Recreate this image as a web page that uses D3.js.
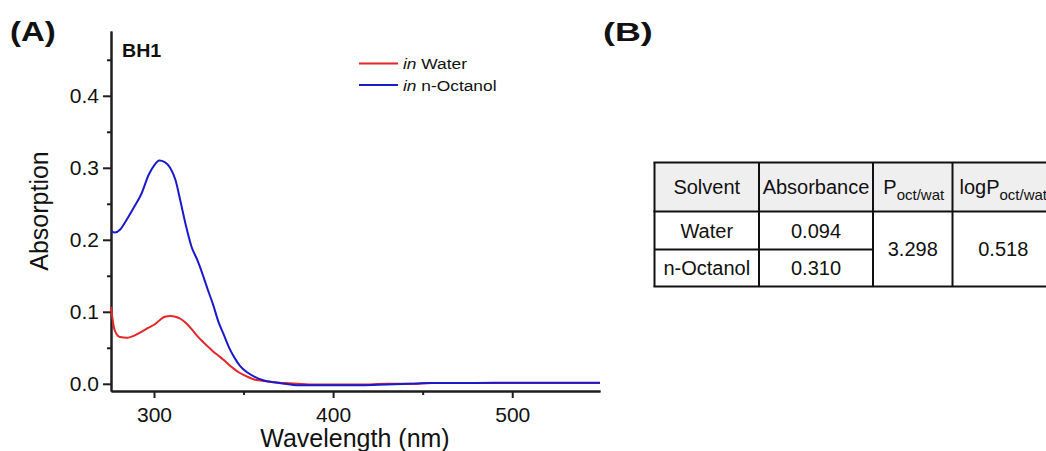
<!DOCTYPE html>
<html>
<head>
<meta charset="utf-8">
<script src="https://cdn.jsdelivr.net/npm/d3@7"></script>
<style>
  html, body { margin: 0; padding: 0; background: #fff; }
  svg { display: block; font-family: "Liberation Sans", Arial, sans-serif; }
</style>
</head>
<body>
<svg id="fig" width="1046" height="451"></svg>
<script>
// Wavelength grid (nm) shared by both spectra
const wavelength = [276, 278, 281, 285, 289, 293, 297, 300, 303, 306, 309, 312, 315, 318, 321, 324, 327, 330, 333, 336, 339, 342, 345, 348, 352, 356, 361, 367, 373, 380, 390, 400, 415, 430, 443, 455, 470, 490, 510, 530, 549];

// BH1 absorption in water
const waterAbs = [0.107, 0.075, 0.065, 0.064, 0.067, 0.072, 0.078, 0.082, 0.088, 0.093, 0.094, 0.093, 0.090, 0.084, 0.076, 0.067, 0.059, 0.052, 0.045, 0.039, 0.033, 0.026, 0.020, 0.015, 0.010, 0.006, 0.004, 0.002, 0.001, 0.000, -0.001, -0.001, -0.001, 0.000, 0.000, 0.001, 0.001, 0.001, 0.001, 0.001, 0.001];

// BH1 absorption in n-octanol
const octanolAbs = [0.213, 0.210, 0.214, 0.229, 0.246, 0.264, 0.290, 0.303, 0.310, 0.308, 0.300, 0.283, 0.251, 0.218, 0.190, 0.173, 0.153, 0.131, 0.110, 0.086, 0.068, 0.050, 0.036, 0.025, 0.016, 0.010, 0.005, 0.002, 0.000, -0.002, -0.002, -0.002, -0.002, -0.001, 0.000, 0.001, 0.001, 0.0015, 0.0015, 0.0015, 0.0015];

const xMajorTicks = [300, 400, 500];
const xMinorTicks = [350, 450];
const yMajorTicks = [0.0, 0.1, 0.2, 0.3, 0.4];
const yMinorTicks = [0.05, 0.15, 0.25, 0.35, 0.45];

const seriesNames = ["Water", "n-Octanol"];
const seriesColors = ["#e2262a", "#1a1acb"];

// Partition table
const tableSolvents = ["Water", "n-Octanol"];
const tableAbsorbance = ["0.094", "0.310"];
const tablePRatio = "3.298";
const tableLogP = "0.518";

const svg = d3.select("#fig");
const axisColor = "#1e1e1e";

const x = d3.scaleLinear().domain([276, 549]).range([111, 600]);
const y = d3.scaleLinear().domain([-0.01, 0.49]).range([391, 31]);

// Panel labels
function stretchedText(sel, str, px, py, size, sx, weight) {
  return sel.append("text")
    .attr("transform", `translate(${px},${py}) scale(${sx},1)`)
    .attr("font-size", size)
    .attr("font-weight", weight || "normal")
    .attr("fill", "#111")
    .text(str);
}
stretchedText(svg, "(A)", 10, 41, 27, 1.22, "bold");
stretchedText(svg, "(B)", 603, 41, 26, 1.38, "bold");
stretchedText(svg, "BH1", 122, 57, 18.5, 1.06, "bold");

// Axes
function styleAxis(g) {
  g.selectAll("path, line").attr("stroke", axisColor).attr("stroke-width", 2);
  g.selectAll("text").attr("font-size", 21).attr("fill", "#111")
    .attr("font-family", "Liberation Sans, Arial, sans-serif");
}

svg.append("g").attr("transform", "translate(0,391)")
  .call(d3.axisBottom(x).tickValues(xMinorTicks).tickSize(4).tickSizeOuter(0).tickFormat(""))
  .call(styleAxis);
svg.append("g").attr("transform", "translate(0,391)")
  .call(d3.axisBottom(x).tickValues(xMajorTicks).tickSize(7).tickSizeOuter(0).tickPadding(9).tickFormat(d3.format("d")))
  .call(styleAxis);

svg.append("g").attr("transform", "translate(111,0)")
  .call(d3.axisLeft(y).tickValues(yMinorTicks).tickSize(4).tickSizeOuter(0).tickFormat(""))
  .call(styleAxis);
svg.append("g").attr("transform", "translate(111,0)")
  .call(d3.axisLeft(y).tickValues(yMajorTicks).tickSize(8).tickSizeOuter(0).tickPadding(4).tickFormat(d3.format(".1f")))
  .call(styleAxis);

// Axis titles
svg.append("text")
  .attr("x", 355).attr("y", 447)
  .attr("text-anchor", "middle")
  .attr("font-size", 25).attr("fill", "#111")
  .text("Wavelength (nm)");
svg.append("text")
  .attr("transform", "translate(48,211) rotate(-90)")
  .attr("text-anchor", "middle")
  .attr("font-size", 25).attr("fill", "#111")
  .text("Absorption");

// Spectra
const line = d3.line()
  .x(d => x(d[0]))
  .y(d => y(d[1]))
  .curve(d3.curveMonotoneX);

const spectra = [waterAbs, octanolAbs];
spectra.forEach((vals, i) => {
  svg.append("path")
    .datum(wavelength.map((w, k) => [w, vals[k]]))
    .attr("fill", "none")
    .attr("stroke", seriesColors[i])
    .attr("stroke-width", 2)
    .attr("stroke-linejoin", "round")
    .attr("d", line);
});

// Legend
seriesNames.forEach((name, i) => {
  const ly = 63.5 + i * 21.5;
  svg.append("line")
    .attr("x1", 359).attr("x2", 398).attr("y1", ly).attr("y2", ly)
    .attr("stroke", seriesColors[i]).attr("stroke-width", 2);
  const t = svg.append("text")
    .attr("transform", `translate(403,${ly + 5.5}) scale(1.12,1)`)
    .attr("font-size", 15.5).attr("fill", "#111");
  t.append("tspan").attr("font-style", "italic").text("in");
  t.append("tspan").text(" " + name);
});

// Table
const colEdges = [654.5, 759, 873, 952.5, 1054];
const rowEdges = [162.5, 211.5, 249.5, 286.5];
const tbl = svg.append("g");

tbl.append("rect")
  .attr("x", colEdges[0]).attr("y", rowEdges[0])
  .attr("width", colEdges[4] - colEdges[0]).attr("height", rowEdges[1] - rowEdges[0])
  .attr("fill", "#efefef");

const cellText = (str, cx, cy) => tbl.append("text")
  .attr("x", cx).attr("y", cy + 7)
  .attr("text-anchor", "middle")
  .attr("font-size", 20).attr("fill", "#111")
  .text(str);

const colMid = i => (colEdges[i] + colEdges[i + 1]) / 2;
const rowMid = i => (rowEdges[i] + rowEdges[i + 1]) / 2;

cellText("Solvent", colMid(0), rowMid(0));
cellText("Absorbance", colMid(1), rowMid(0));

function subHeader(main, cx, cy) {
  const t = tbl.append("text")
    .attr("x", cx).attr("y", cy + 7)
    .attr("text-anchor", "middle")
    .attr("font-size", 20).attr("fill", "#111");
  t.append("tspan").text(main);
  t.append("tspan").attr("font-size", 15).attr("dy", 6).text("oct/wat");
}
subHeader("P", colMid(2) + 1, rowMid(0));
subHeader("logP", colMid(3), rowMid(0));

tableSolvents.forEach((s, i) => {
  cellText(s, colMid(0), rowMid(i + 1));
  cellText(tableAbsorbance[i], colMid(1), rowMid(i + 1));
});
const mergedMid = (rowEdges[1] + rowEdges[3]) / 2;
cellText(tablePRatio, colMid(2), mergedMid);
cellText(tableLogP, colMid(3), mergedMid);

// Grid lines
const gl = (x1, y1, x2, y2) => tbl.append("line")
  .attr("x1", x1).attr("y1", y1).attr("x2", x2).attr("y2", y2)
  .attr("stroke", "#111").attr("stroke-width", 2);
rowEdges.forEach((ry, i) => {
  if (i === 2) gl(colEdges[0], ry, colEdges[2], ry);
  else gl(colEdges[0] - 1, ry, colEdges[4], ry);
});
colEdges.forEach(cx => gl(cx, rowEdges[0], cx, rowEdges[3]));
</script>
</body>
</html>
